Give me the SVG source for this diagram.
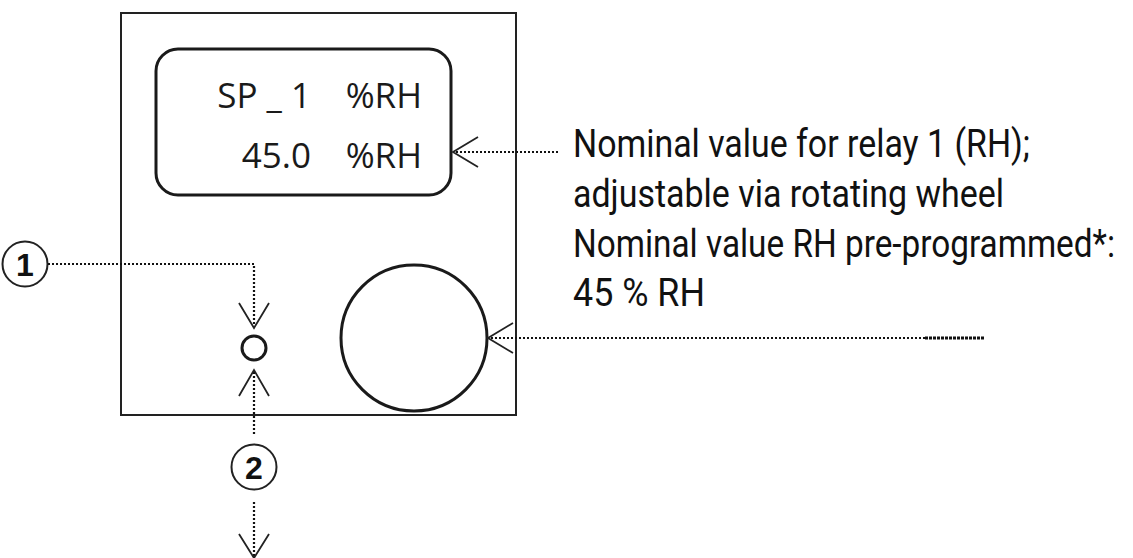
<svg xmlns="http://www.w3.org/2000/svg" width="1133" height="558" viewBox="0 0 1133 558">
<style>
.box{fill:none;stroke:#222;stroke-width:2}
.thick{fill:none;stroke:#1a1a1a;stroke-width:3}
.dot{fill:none;stroke:#111;stroke-width:2.2;stroke-dasharray:2 2}
.head{fill:none;stroke:#222;stroke-width:1.8}
.disp{font-family:"Open Sans","Noto Sans",sans-serif;font-weight:400;font-size:35px;fill:#1a1a1a;text-anchor:end}
.lbl{font-family:Roboto,"Liberation Sans",sans-serif;font-size:38px;fill:#111}
.num{font-family:"Liberation Sans",Arial,sans-serif;font-size:32px;font-weight:bold;fill:#111;text-anchor:middle}
</style>
<rect width="1133" height="558" fill="#fff"/>
<g id="device">
<rect class="box" x="121" y="13" width="395" height="402"/>
</g>
<g id="display">
<rect class="thick" x="156" y="49" width="295" height="146" rx="22"/>
<text class="disp" x="311" y="108">SP _ 1</text>
<text class="disp" x="422" y="108">%RH</text>
<text class="disp" x="311" y="168">45.0</text>
<text class="disp" x="422" y="168">%RH</text>
</g>
<g id="led"><circle class="thick" cx="254" cy="348" r="12"/></g>
<g id="wheel"><circle class="thick" cx="414" cy="338" r="73"/></g>
<g id="label1"><circle cx="25" cy="264" r="22.5" fill="none" stroke="#222" stroke-width="2"/><text class="num" x="25" y="276">1</text></g>
<g id="label2"><circle cx="254" cy="467" r="22.5" fill="none" stroke="#222" stroke-width="2"/><text class="num" x="254" y="479">2</text></g>
<g id="desc">
<text class="lbl" x="573" y="157" textLength="457" lengthAdjust="spacingAndGlyphs">Nominal value for relay 1 (RH);</text>
<text class="lbl" x="573" y="207" textLength="431" lengthAdjust="spacingAndGlyphs">adjustable via rotating wheel</text>
<text class="lbl" x="573" y="257" textLength="542" lengthAdjust="spacingAndGlyphs">Nominal value RH pre-programmed*:</text>
<text class="lbl" x="573" y="306" textLength="132" lengthAdjust="spacingAndGlyphs">45 % RH</text>
</g>
<g id="connectors">
<path class="dot" d="M558 152 H454"/>
<path class="head" d="M478 137 L453 152 L478 167"/>
<path class="dot" d="M925 338 H489"/>
<path class="dot" d="M925 338 H985" style="stroke-width:3;stroke-dasharray:3 1"/>
<path class="head" d="M513 323 L488 338 L513 353"/>
<path class="dot" d="M48 264 H254 V327"/>
<path class="head" d="M239 303 L254 328 L269 303"/>
<path class="dot" d="M254 372 V435"/>
<path class="head" d="M239 396 L254 370 L269 396"/>
<path class="dot" d="M254 502 V556"/>
<path class="head" d="M239 534 L254 558 L269 534"/>
</g>
</svg>
